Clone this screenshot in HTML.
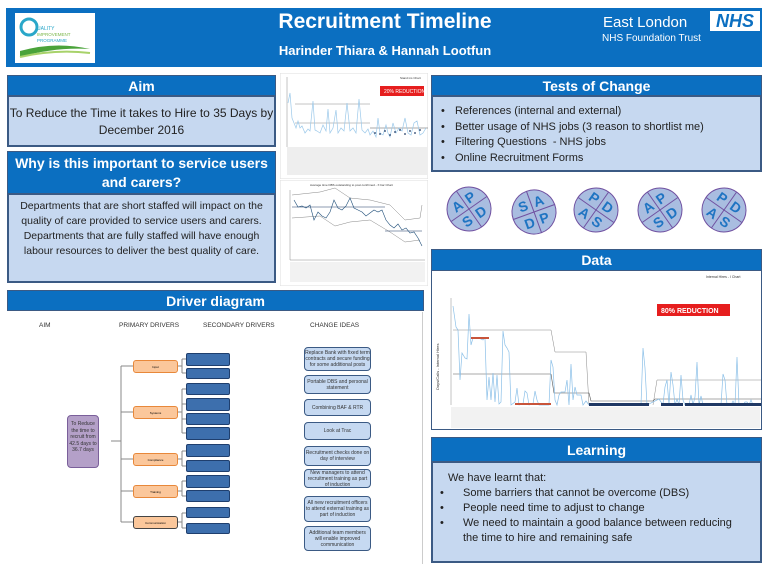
<!DOCTYPE html>
<html><head><meta charset="utf-8"><style>
*{margin:0;padding:0;box-sizing:border-box}
body{width:768px;height:576px;background:#fff;position:relative;overflow:hidden;font-family:"Liberation Sans",sans-serif}
.a{position:absolute}
.hd{background:#0b6fc1;color:#fff;font-weight:bold;text-align:center;border:1px solid #3b5a84}
.bd{background:#c6d8f0;border:2px solid #3b5a84;color:#222}
.pb{position:absolute;background:#fbc79b;border:1px solid #e8883a;border-radius:3px;font-size:3px;text-align:center}
.sb{position:absolute;background:#3d6fad;border:1px solid #1f3f6e;border-radius:2px}
.ci{position:absolute;background:#c6d9f1;border:1.5px solid #3b5a84;border-radius:4px;font-size:5px;line-height:6px;text-align:center;color:#333;display:flex;align-items:center;justify-content:center;left:304px;width:67px}
ul{list-style:none}
li{position:relative}
li:before{content:"•";position:absolute;left:-14px}
.lr li:before{left:-23px}
</style></head><body>
<!-- header -->
<div class="a" style="left:6px;top:8px;width:756px;height:59px;background:#0b6fc1"></div>
<div class="a" style="left:15px;top:13px;width:80px;height:50px;background:#fff">
<svg width="80" height="50"><circle cx="14" cy="14" r="8" fill="none" stroke="#2aa7c9" stroke-width="3"/><text x="22" y="17" font-size="5" fill="#2aa7c9" font-family="Liberation Sans">UALITY</text><text x="22" y="23" font-size="4.5" fill="#7ab648" font-family="Liberation Sans">IMPROVEMENT</text><text x="22" y="29" font-size="4.5" fill="#2aa7c9" font-family="Liberation Sans">PROGRAMME</text><path d="M5 38 Q40 28 75 36 Q40 34 5 44Z" fill="#4aa33a"/><path d="M5 44 Q40 36 75 40" stroke="#a8d26a" stroke-width="2" fill="none"/></svg></div>
<div class="a" style="left:230px;top:10px;width:310px;text-align:center;color:#fff;font-weight:bold;font-size:21px">Recruitment Timeline</div>
<div class="a" style="left:230px;top:43px;width:310px;text-align:center;color:#fff;font-weight:bold;font-size:13px">Harinder Thiara &amp; Hannah Lootfun</div>
<div class="a" style="left:603px;top:14px;color:#fff;font-size:15px">East London</div>
<div class="a" style="left:602px;top:33px;color:#fff;font-size:10px">NHS Foundation Trust</div>
<div class="a" style="left:710px;top:11px;width:50px;height:20px;background:#fff;color:#0b6fc1;font-weight:bold;font-style:italic;font-size:18px;line-height:20px;text-align:center">NHS</div>

<!-- Aim -->
<div class="a hd" style="left:7px;top:75px;width:269px;height:21px;font-size:14px;line-height:20px">Aim</div>
<div class="a bd" style="left:7px;top:95px;width:269px;height:52px;font-size:12px;text-align:center;padding-top:8px;line-height:17px">To Reduce the Time it takes to Hire to 35 Days by December 2016</div>
<!-- Why -->
<div class="a hd" style="left:7px;top:151px;width:269px;height:43px;font-size:14px;line-height:19px;padding-top:2px">Why is this important to service users and carers?</div>
<div class="a bd" style="left:7px;top:193px;width:269px;height:90px;font-size:10.5px;text-align:center;padding:4px 8px;line-height:15px">Departments that are short staffed will impact on the quality of care provided to service users and carers. Departments that are fully staffed will have enough labour resources to deliver the best quality of care.</div>

<!-- small charts -->
<svg class="a" style="left:280px;top:73px" width="148" height="106">
<rect x="0" y="0" width="148" height="106" fill="#fff" stroke="#ddd"/>
<text x="120" y="6" font-size="3" fill="#333">Stand ins Chart</text>
<rect x="100" y="13" width="44" height="10" fill="#e61e1e"/><text x="104" y="20" font-size="5" fill="#fff">20% REDUCTION</text>
<line x1="7" y1="4" x2="7" y2="74" stroke="#888" stroke-width=".5"/>
<line x1="15" y1="31" x2="90" y2="31" stroke="#888" stroke-width=".5"/>
<line x1="15" y1="50" x2="90" y2="50" stroke="#888" stroke-width=".5"/>
<line x1="90" y1="55" x2="148" y2="55" stroke="#555" stroke-width=".5"/>
<polyline fill="none" stroke="#9cc9ea" stroke-width=".7" points="8,30 10,20 12,45 14,50 16,55 18,48 20,55 22,53 25,60 28,56 30,58 33,28 35,57 37,58 40,60 43,52 46,58 48,36 50,60 53,55 56,37 58,60 61,55 64,58 67,30 70,58 73,55 76,60 79,26 82,57 85,60 88,56 90,62 93,58 96,64 98,45 100,60 103,62 106,52 108,60 110,64 113,50 116,60 119,55 122,58 125,45 128,60 131,62 134,50 137,48 140,62 143,60 146,55"/>
<g fill="#1f3864"><circle cx="95" cy="60" r=".9"/><circle cx="100" cy="61" r=".9"/><circle cx="105" cy="58" r=".9"/><circle cx="110" cy="62" r=".9"/><circle cx="115" cy="59" r=".9"/><circle cx="120" cy="57" r=".9"/><circle cx="125" cy="61" r=".9"/><circle cx="130" cy="58" r=".9"/><circle cx="135" cy="60" r=".9"/><circle cx="140" cy="57" r=".9"/></g>
<rect x="7" y="74" width="141" height="28" fill="#eee"/>
</svg>
<svg class="a" style="left:280px;top:180px" width="148" height="106">
<rect x="0" y="0" width="148" height="106" fill="#fff" stroke="#ddd"/>
<text x="30" y="6" font-size="3" fill="#333">Average time DBS outstanding to post confirmed - X bar Chart</text>
<line x1="10" y1="10" x2="10" y2="80" stroke="#888" stroke-width=".5"/>
<line x1="10" y1="80" x2="145" y2="80" stroke="#888" stroke-width=".5"/>
<polyline fill="none" stroke="#888" stroke-width=".5" points="12,15 40,12 55,8 70,18 90,20 110,25 125,40 140,38 142,25"/>
<polyline fill="none" stroke="#888" stroke-width=".5" points="12,38 40,36 55,46 70,42 90,40 110,52 125,62 140,60"/>
<line x1="12" y1="27" x2="105" y2="27" stroke="#1f3864" stroke-width=".6"/>
<line x1="105" y1="51" x2="142" y2="51" stroke="#1f3864" stroke-width=".6"/>
<polyline fill="none" stroke="#1f4e79" stroke-width=".6" points="14,20 18,27 22,26 26,28 30,25 34,40 38,32 42,36 46,38 50,32 54,20 58,28 62,30 66,26 70,18 74,28 78,30 82,32 86,36 90,33 94,30 98,32 102,30 106,40 110,45 114,48 118,44 122,50 126,48 130,53 134,52 138,58 142,66"/>
<rect x="10" y="82" width="135" height="20" fill="#f2f2f2"/>
</svg>

<!-- Tests of change -->
<div class="a hd" style="left:431px;top:75px;width:331px;height:21px;font-size:14px;line-height:20px">Tests of Change</div>
<div class="a bd" style="left:431px;top:95px;width:331px;height:77px;font-size:11px;line-height:15.5px;padding:7px 0 0 22px">
<ul><li>References (internal and external)</li><li>Better usage of NHS jobs (3 reason to shortlist me)</li><li>Filtering Questions &nbsp;- NHS jobs</li><li>Online Recruitment Forms</li></ul></div>

<!-- PDSA -->
<svg class="a" style="left:431px;top:180px" width="331" height="65" font-family="Liberation Sans" font-weight="bold" font-size="14" fill="#1f74c2">
<g transform="translate(38,29) rotate(-35)"><circle r="22" fill="#a9bde0" stroke="#7050a0"/><line x1="-22" y1="0" x2="22" y2="0" stroke="#7050a0"/><line x1="0" y1="-22" x2="0" y2="22" stroke="#7050a0"/><text x="-13" y="-4">A</text><text x="3" y="-4">P</text><text x="-13" y="14">S</text><text x="3" y="14">D</text></g>
<g transform="translate(103,32) rotate(-20)"><circle r="22" fill="#a9bde0" stroke="#7050a0"/><line x1="-22" y1="0" x2="22" y2="0" stroke="#7050a0"/><line x1="0" y1="-22" x2="0" y2="22" stroke="#7050a0"/><text x="-13" y="-4">S</text><text x="3" y="-4">A</text><text x="-13" y="14">D</text><text x="3" y="14">P</text></g>
<g transform="translate(165,30) rotate(35)"><circle r="22" fill="#a9bde0" stroke="#7050a0"/><line x1="-22" y1="0" x2="22" y2="0" stroke="#7050a0"/><line x1="0" y1="-22" x2="0" y2="22" stroke="#7050a0"/><text x="-13" y="-4">P</text><text x="3" y="-4">D</text><text x="-13" y="14">A</text><text x="3" y="14">S</text></g>
<g transform="translate(229,30) rotate(-35)"><circle r="22" fill="#a9bde0" stroke="#7050a0"/><line x1="-22" y1="0" x2="22" y2="0" stroke="#7050a0"/><line x1="0" y1="-22" x2="0" y2="22" stroke="#7050a0"/><text x="-13" y="-4">A</text><text x="3" y="-4">P</text><text x="-13" y="14">S</text><text x="3" y="14">D</text></g>
<g transform="translate(293,30) rotate(35)"><circle r="22" fill="#a9bde0" stroke="#7050a0"/><line x1="-22" y1="0" x2="22" y2="0" stroke="#7050a0"/><line x1="0" y1="-22" x2="0" y2="22" stroke="#7050a0"/><text x="-13" y="-4">P</text><text x="3" y="-4">D</text><text x="-13" y="14">A</text><text x="3" y="14">S</text></g>
</svg>

<!-- Data -->
<div class="a hd" style="left:431px;top:249px;width:331px;height:22px;font-size:14px;line-height:21px">Data</div>
<svg class="a" style="left:431px;top:270px" width="331" height="160">
<rect x="0" y="0" width="331" height="160" fill="#fff" stroke="#3b5a84" stroke-width="2"/>
<text x="275" y="8" font-size="3.5" fill="#333">Internal Hires - I Chart</text>
<rect x="226" y="34" width="73" height="12" fill="#e61e1e"/><text x="230" y="43" font-size="7" font-weight="bold" fill="#fff">80% REDUCTION</text>
<text x="8" y="120" font-size="4" fill="#333" transform="rotate(-90 8 120)">Days/Calls - Internal Hires</text>
<line x1="20" y1="28" x2="20" y2="135" stroke="#888" stroke-width=".5"/>
<polyline fill="none" stroke="#888" stroke-width=".5" points="22,60 120,60 124,82 155,82 158,135"/>
<polyline fill="none" stroke="#888" stroke-width=".5" points="222,135 226,110 330,110"/>
<line x1="22" y1="104" x2="120" y2="104" stroke="#555" stroke-width=".6"/>
<polyline fill="none" stroke="#555" stroke-width=".6" points="120,104 123,123 158,123 160,131 222,131 224,129 330,129"/>
<polyline fill="none" stroke="#8cc0e8" stroke-width=".7" points="22,36 25,57 27,60 29,110 31,83 34,88 36,89 38,44 40,75 42,68 45,68 48,68 50,69 52,70 54,68 56,130 58,107 60,130 62,103 64,132 66,105 68,134 70,132 72,61 74,75 76,78 78,82 80,135 84,132 86,118 88,135 92,134 94,121 96,123 98,135 102,134 104,121 106,130 108,135 118,135 120,90 122,97 124,130 126,135 128,125 130,122 134,122 136,110 138,135 140,94 142,130 144,117 146,125 150,125 152,135 155,131 158,135 160,135 210,135 212,78 214,98 216,135 228,129 230,132 232,134 234,117 236,110 238,135 240,102 242,115 244,135 246,129 248,135 250,105 252,130 254,135 258,135 260,125 262,135 264,127 266,92 268,135 270,126 272,135 276,135 290,135 292,104 294,110 296,135 300,135 302,131 304,135 306,87 308,135 312,135 314,132 316,132 318,135 320,130 322,135 330,135"/>
<g fill="#1f3864"><rect x="158" y="133" width="60" height="3"/><rect x="254" y="133" width="76" height="3"/><rect x="230" y="133" width="22" height="3"/></g>
<g fill="#c8543a"><rect x="40" y="67" width="18" height="2"/><rect x="84" y="133" width="36" height="2"/></g>
<rect x="20" y="137" width="309" height="21" fill="#f2f2f2"/>
</svg>

<!-- Learning -->
<div class="a hd" style="left:431px;top:437px;width:331px;height:25px;font-size:14px;line-height:24px">Learning</div>
<div class="a bd lr" style="left:431px;top:461px;width:331px;height:102px;font-size:11px;line-height:15px;padding:8px 24px 0 15px">We have learnt that:
<ul style="margin-left:15px"><li>Some barriers that cannot be overcome (DBS)</li><li>People need time to adjust to change</li><li>We need to maintain a good balance between reducing the time to hire and remaining safe</li></ul></div>

<!-- Driver diagram -->
<div class="a hd" style="left:7px;top:290px;width:417px;height:21px;font-size:14px;line-height:20px">Driver diagram</div>
<div class="a" style="left:422px;top:312px;width:1px;height:252px;background:#ccc"></div>
<div class="a" style="left:39px;top:322px;font-size:6.5px;color:#333">AIM</div>
<div class="a" style="left:119px;top:322px;font-size:6.5px;color:#333">PRIMARY DRIVERS</div>
<div class="a" style="left:203px;top:322px;font-size:6.5px;color:#333">SECONDARY DRIVERS</div>
<div class="a" style="left:310px;top:322px;font-size:6.5px;color:#333">CHANGE IDEAS</div>
<svg class="a" style="left:0;top:0" width="300" height="576">
<g stroke="#888" stroke-width="1" fill="none">
<line x1="111" y1="441" x2="121" y2="441"/><line x1="121" y1="366" x2="121" y2="522"/>
<line x1="121" y1="366" x2="133" y2="366"/><line x1="121" y1="412" x2="133" y2="412"/><line x1="121" y1="459" x2="133" y2="459"/><line x1="121" y1="491" x2="133" y2="491"/><line x1="121" y1="522" x2="133" y2="522"/>
<path d="M178 366h4M182 359v14M182 359h4M182 373h4"/>
<path d="M178 412h4M182 389v44M182 389h4M182 404h4M182 419h4M182 433h4"/>
<path d="M178 459h4M182 451v15M182 451h4M182 466h4"/>
<path d="M178 491h4M182 481v15M182 481h4M182 496h4"/>
<path d="M178 522h4M182 513v15M182 513h4M182 528h4"/>
</g></svg>
<div class="a" style="left:67px;top:415px;width:32px;height:53px;background:#b4a0c8;border:1.5px solid #7a5f9a;border-radius:4px;font-size:5px;line-height:6.5px;text-align:center;padding-top:5px;color:#333">To Reduce the time to recruit from 42.5 days to 36.7 days</div>
<div class="pb" style="left:133px;top:360px;width:45px;height:13px;line-height:12px">Input</div>
<div class="pb" style="left:133px;top:406px;width:45px;height:13px;line-height:12px">Systems</div>
<div class="pb" style="left:133px;top:453px;width:45px;height:13px;line-height:12px">Compliance</div>
<div class="pb" style="left:133px;top:485px;width:45px;height:13px;line-height:12px">Training</div>
<div class="pb" style="left:133px;top:516px;width:45px;height:13px;line-height:12px;border-color:#444">Communication</div>
<div class="sb" style="left:186px;top:353px;width:44px;height:13px"></div>
<div class="sb" style="left:186px;top:368px;width:44px;height:11px"></div>
<div class="sb" style="left:186px;top:383px;width:44px;height:12px"></div>
<div class="sb" style="left:186px;top:398px;width:44px;height:13px"></div>
<div class="sb" style="left:186px;top:413px;width:44px;height:12px"></div>
<div class="sb" style="left:186px;top:427px;width:44px;height:13px"></div>
<div class="sb" style="left:186px;top:444px;width:44px;height:13px"></div>
<div class="sb" style="left:186px;top:460px;width:44px;height:12px"></div>
<div class="sb" style="left:186px;top:475px;width:44px;height:13px"></div>
<div class="sb" style="left:186px;top:490px;width:44px;height:12px"></div>
<div class="sb" style="left:186px;top:507px;width:44px;height:11px"></div>
<div class="sb" style="left:186px;top:523px;width:44px;height:11px"></div>
<div class="ci" style="top:347px;height:24px">Replace Bank with fixed term contracts and secure funding for some additional posts</div>
<div class="ci" style="top:375px;height:19px">Portable DBS and personal statement</div>
<div class="ci" style="top:399px;height:17px">Combining BAF &amp; RTR</div>
<div class="ci" style="top:422px;height:18px">Look at Trac</div>
<div class="ci" style="top:446px;height:20px">Recruitment checks done on day of interview</div>
<div class="ci" style="top:469px;height:19px">New managers to attend recruitment training as part of induction</div>
<div class="ci" style="top:496px;height:26px">All new recruitment officers to attend external training as part of induction</div>
<div class="ci" style="top:526px;height:25px">Additional team members will enable improved communication</div>
</body></html>
